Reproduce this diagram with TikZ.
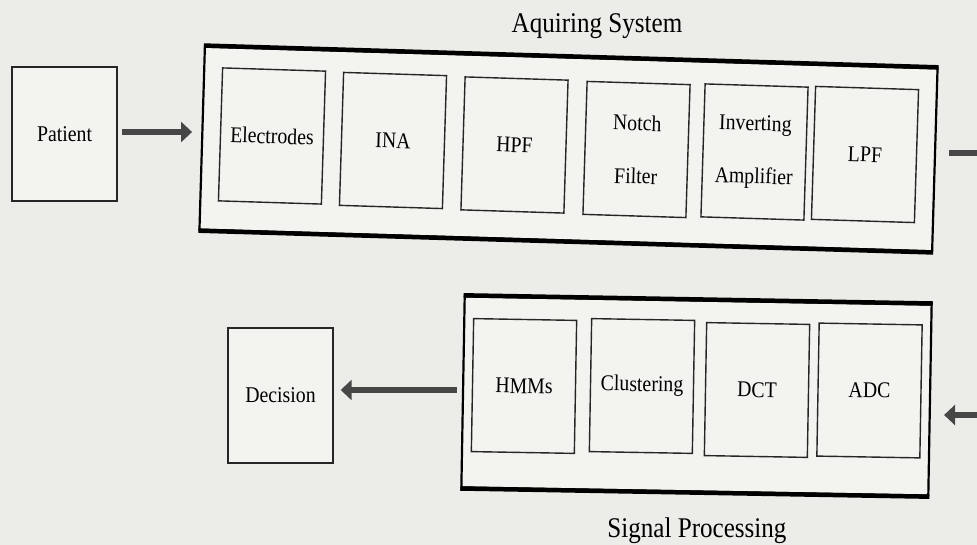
\documentclass[tikz,border=0pt]{standalone}
\usepackage{fontspec}
\setmainfont{Liberation Serif}[FakeStretch=0.88]
\usetikzlibrary{arrows.meta,calc}

\definecolor{paper}{RGB}{236,236,232}
\definecolor{panel}{RGB}{243,243,240}

\tikzset{
  blk/.style={draw=black!85, line width=1.4pt, fill=panel,
    minimum width=103pt, minimum height=133pt, inner sep=0pt,
    font=\fontsize{22.5}{27}\selectfont, align=center},
  twoline/.style={font=\fontsize{22.5}{53}\selectfont},
  frame/.style={draw=black, line width=2.2pt, fill=panel, inner sep=0pt},
  rim/.style={line width=4.5pt},
  bigarrow/.style={draw=black!72, line width=5.5pt,
    -{Triangle[length=11pt,width=20pt]}},
  caption/.style={font=\fontsize{28.5}{34}\selectfont, anchor=base}
}

\begin{document}
\begin{tikzpicture}[x=1pt,y=-1pt]
\useasboundingbox (0,0) rectangle (977,545);
\fill[paper] (0,0) rectangle (977,545);
\clip (0,0) rectangle (977,545);

% ---- source ----
\node[blk, minimum width=105pt, minimum height=134pt] (pat) at (64.5,134) {Patient};

% ---- acquisition chain ----
\node[frame, rotate=-1.7, minimum width=733pt, minimum height=183pt] (acq) at (568.5,149) {};
\draw[rim] (acq.north west) -- (acq.north east);
\draw[rim] (acq.south west) -- (acq.south east);
\node[caption] (acqT) at (597,33) {Aquiring System};

\node[blk, rotate=-1.8] (el)  at (272,136)   {Electrodes};
\node[blk, rotate=-1.8] (ina) at (393,140.5) {INA};
\node[blk, rotate=-1.8] (hpf) at (514.5,145) {HPF};
\node[blk, twoline, rotate=-1.8] (nf)  at (636.5,149.5) {Notch\\Filter};
\node[blk, twoline, rotate=-1.8] (inv) at (754.5,152) {Inverting\\Amplifier};
\node[blk, rotate=-1.8] (lpf) at (865,154.5) {LPF};

% ---- signal processing chain ----
\node[frame, rotate=-1, minimum width=467pt, minimum height=191pt] (sp) at (696.5,396) {};
\draw[rim] (sp.north west) -- (sp.north east);
\draw[rim] (sp.south west) -- (sp.south east);
\node[caption] (spT) at (697,537) {Signal Processing};

\node[blk, rotate=-1] (hmm) at (524,386)   {HMMs};
\node[blk, rotate=-1] (clu) at (642,386)   {Clustering};
\node[blk, rotate=-1] (dct) at (757,390)   {DCT};
\node[blk, rotate=-1] (adc) at (869.5,390.5) {ADC};

\node[blk, minimum width=105pt, minimum height=135pt] (dec) at (280.5,395.5) {Decision};

% ---- connectors ----
\coordinate (outA) at (1000,153);
\coordinate (inB)  at (1000,415);

\draw[bigarrow, shorten <=4pt, shorten >=9pt] (pat.east |- 0,132) -- (acq.west |- 0,132);
\draw[bigarrow, shorten <=13pt] (acq.east |- outA) -- (outA);
\draw[bigarrow, shorten >=13pt] (inB) -- (inB -| sp.east);
\draw[bigarrow, shorten <=5pt, shorten >=7pt] (sp.west |- 0,390) -- (dec.east |- 0,390);
\end{tikzpicture}
\end{document}
